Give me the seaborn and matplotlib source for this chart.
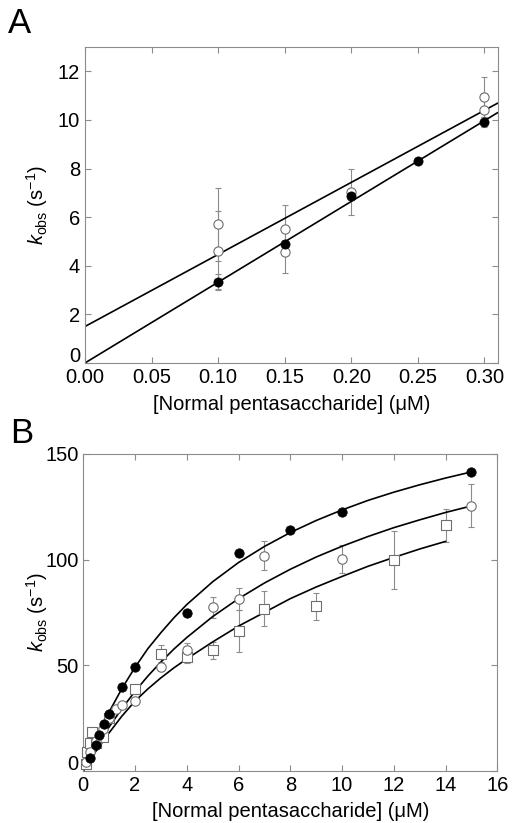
import matplotlib
matplotlib.use("Agg")
import matplotlib.pyplot as plt
import matplotlib.transforms as mtransforms
import seaborn as sns

# ---- panel A: linear dependence at low concentration ----
a_filled_x = [0.10, 0.15, 0.20, 0.25, 0.30]
a_filled_y = [3.35, 4.90, 6.85, 8.30, 9.93]
a_filled_err = [0.30, 0.15, 0.15, 0.10, 0.20]

a_open_x = [0.10, 0.10, 0.15, 0.15, 0.20, 0.30, 0.30]
a_open_y = [5.71, 4.62, 5.50, 4.57, 7.05, 10.96, 10.41]
a_open_err = [1.50, 1.62, 1.00, 0.88, 0.95, 0.82, 0.70]

a_fit_x = [0.0, 0.31]
a_fit_filled = [0.0, 10.30]
a_fit_open = [1.50, 10.69]

# ---- panel B: saturation curves ----
b_filled_x = [0.25, 0.5, 0.6, 0.8, 1.0, 1.5, 2, 4, 6, 8, 10, 15]
b_filled_y = [6, 12, 17, 22, 27, 39.5, 49, 74.5, 103, 114, 122.5, 141.5]

b_open_x = [0.1, 0.25, 0.5, 0.75, 1.0, 1.25, 1.5, 2, 3, 4, 5, 6, 7, 10, 15]
b_open_y = [4, 9, 14, 20, 25, 29, 31, 33, 49, 57, 77.5, 81.3, 101.9, 100.3, 125.4]
b_open_err = [0, 0, 0, 0, 0, 0, 0, 1.5, 2, 3.5, 5, 5.4, 6.8, 6.7, 10.2]

b_sq_x = [0.1, 0.15, 0.25, 0.35, 0.5, 0.75, 1.0, 2, 3, 4, 5, 6, 7, 9, 12, 14]
b_sq_y = [3, 9, 13, 18.5, 13, 16, 25, 38.5, 55.4, 54, 57.1, 66.2, 76.8, 77.8, 99.9, 116.2]
b_sq_err = [0, 0, 0, 0, 0, 0, 0, 2, 4, 3, 4, 10, 8.3, 6.3, 13.7, 7.8]

b_curve_x = [0, 0.25, 0.5, 1, 1.5, 2, 2.5, 3, 3.5, 4, 5, 6, 7, 8, 9, 10, 11, 12, 13, 14, 15]
b_curve_filled = [0, 7.8, 15.0, 27.9, 39.1, 49.0, 57.9, 65.4, 72.4, 78.7, 89.5, 98.6,
                  106.2, 112.8, 118.5, 123.5, 128.0, 131.9, 135.4, 138.6, 141.5]
b_curve_open = [0, 5.7, 11.0, 20.8, 29.6, 37.6, 44.9, 51.5, 57.6, 63.1, 73.0, 81.5,
                88.9, 95.4, 101.2, 106.3, 110.9, 115.1, 118.8, 122.3, 125.4]
b_sq_curve_x = [0, 0.25, 0.5, 1, 1.5, 2, 2.5, 3, 3.5, 4, 5, 6, 7, 8, 9, 10, 11, 12, 13, 14]
b_sq_curve = [0, 4.9, 9.5, 18, 26, 33, 38.8, 44, 48.7, 53, 61, 68.5, 75, 81.5, 87,
              92, 96.8, 101, 105, 108.6]

a_xticks = [0.00, 0.05, 0.10, 0.15, 0.20, 0.25, 0.30]
a_yticks = [0, 2, 4, 6, 8, 10, 12]
b_xticks = [0, 2, 4, 6, 8, 10, 12, 14, 16]
b_yticks = [0, 50, 100, 150]

sns.set_style("ticks")
plt.rcParams['font.family'] = ['Liberation Sans', 'DejaVu Sans']
plt.rcParams['mathtext.fontset'] = 'custom'
plt.rcParams['mathtext.rm'] = 'Liberation Sans'
plt.rcParams['mathtext.it'] = 'Liberation Sans:italic'
plt.rcParams['text.color'] = 'black'
plt.rcParams['axes.labelcolor'] = 'black'

GRAY = '#8c8c8c'
FS = 14.5
fig = plt.figure(figsize=(5.13, 8.23), dpi=100)
axA = fig.add_axes([0.1657, 0.559, 0.8045, 0.3839])
axB = fig.add_axes([0.1624, 0.0635, 0.807, 0.3849])


def style_axis(ax, ylab_x, xpad):
    for sp in ax.spines.values():
        sp.set_color(GRAY)
        sp.set_linewidth(0.8)
    ax.tick_params(direction='in', top=True, right=True, length=4,
                   width=0.8, color=GRAY, labelsize=FS, labelcolor='black')
    ax.set_ylabel(r'$k_{\mathrm{obs}}$ (s$^{\mathrm{-1}}$)', fontsize=FS)
    ax.yaxis.set_label_coords(ylab_x, 0.5)
    ax.set_xlabel('[Normal pentasaccharide] (\u03bcM)', fontsize=FS, labelpad=xpad)
    # lift the "0" on the y axis a little so it clears the x tick label
    lift = mtransforms.ScaledTranslation(0, 6 / 72, fig.dpi_scale_trans)
    lab = ax.get_yticklabels()[0]
    lab.set_transform(lab.get_transform() + lift)


def open_points(ax, x, y, err, marker, size):
    ax.errorbar(x, y, yerr=err, fmt='none', ecolor=GRAY, elinewidth=0.8,
                capsize=2, capthick=0.8, zorder=1)
    sns.scatterplot(x=x, y=y, ax=ax, marker=marker, s=size, color='white',
                    edgecolor='#6e6e6e', linewidth=0.8, zorder=3, clip_on=False)


# panel A
sns.lineplot(x=a_fit_x, y=a_fit_filled, ax=axA, color='black', lw=1.2, zorder=2)
sns.lineplot(x=a_fit_x, y=a_fit_open, ax=axA, color='black', lw=1.2, zorder=2)
open_points(axA, a_open_x, a_open_y, a_open_err, 'o', 44)
axA.errorbar(a_filled_x, a_filled_y, yerr=a_filled_err, fmt='none', ecolor=GRAY,
             elinewidth=0.8, capsize=2, capthick=0.8, zorder=1)
sns.scatterplot(x=a_filled_x, y=a_filled_y, ax=axA, color='black', s=44,
                edgecolor='black', linewidth=0.5, zorder=4)
axA.set_xlim(0, 0.31)
axA.set_ylim(0, 13)
axA.set_xticks(a_xticks)
axA.set_xticklabels([f'{v:.2f}' for v in a_xticks])
axA.set_yticks(a_yticks)
axA.set_yticklabels([str(v) for v in a_yticks])
style_axis(axA, -0.085, 6)

# panel B
sns.lineplot(x=b_curve_x, y=b_curve_filled, ax=axB, color='black', lw=1.2, zorder=2)
sns.lineplot(x=b_curve_x, y=b_curve_open, ax=axB, color='black', lw=1.2, zorder=2)
sns.lineplot(x=b_sq_curve_x, y=b_sq_curve, ax=axB, color='black', lw=1.2, zorder=2)
open_points(axB, b_sq_x, b_sq_y, b_sq_err, 's', 50)
open_points(axB, b_open_x, b_open_y, b_open_err, 'o', 46)
sns.scatterplot(x=b_filled_x, y=b_filled_y, ax=axB, color='black', s=46,
                edgecolor='black', linewidth=0.5, zorder=4)
axB.set_xlim(0, 16)
axB.set_ylim(0, 150)
axB.set_xticks(b_xticks)
axB.set_yticks(b_yticks)
axB.set_yticklabels([str(v) for v in b_yticks])
style_axis(axB, -0.080, 5)

fig.text(0.016, 0.992, 'A', fontsize=25, va='top', ha='left')
fig.text(0.020, 0.493, 'B', fontsize=25, va='top', ha='left')

fig.savefig('out.png', dpi=100)
